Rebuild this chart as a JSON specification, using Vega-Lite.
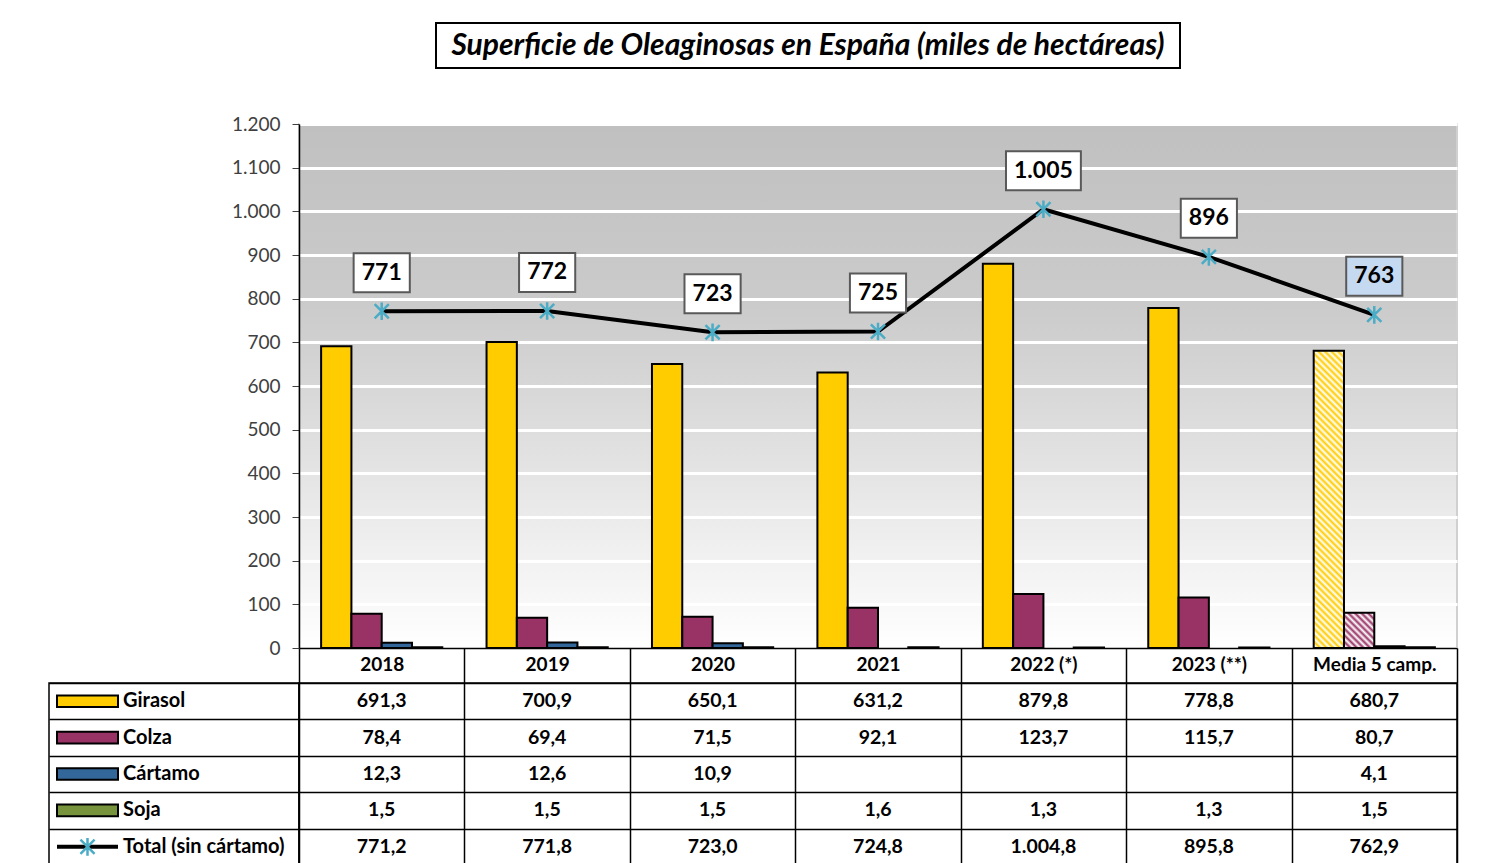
{
  "$schema": "https://vega.github.io/schema/vega-lite/v6.json",
  "background": "white",
  "padding": {"left": 48, "top": 22, "right": 0, "bottom": 0},
  "config": {
    "locale": {"number": {"decimal": ",", "thousands": ".", "grouping": [3], "currency": ["", " €"]}},
    "font": "Lato",
    "view": {"stroke": null},
    "axis": {"labelFont": "Lato", "titleFont": "Lato"},
    "text": {"font": "Lato"}
  },
  "datasets": {
    "sup": [
      {"cat": "2018", "serie": "Girasol", "value": 691.3},
      {"cat": "2018", "serie": "Colza", "value": 78.4},
      {"cat": "2018", "serie": "Cártamo", "value": 12.3},
      {"cat": "2018", "serie": "Soja", "value": 1.5},
      {"cat": "2018", "serie": "Total (sin cártamo)", "value": 771.2},
      {"cat": "2019", "serie": "Girasol", "value": 700.9},
      {"cat": "2019", "serie": "Colza", "value": 69.4},
      {"cat": "2019", "serie": "Cártamo", "value": 12.6},
      {"cat": "2019", "serie": "Soja", "value": 1.5},
      {"cat": "2019", "serie": "Total (sin cártamo)", "value": 771.8},
      {"cat": "2020", "serie": "Girasol", "value": 650.1},
      {"cat": "2020", "serie": "Colza", "value": 71.5},
      {"cat": "2020", "serie": "Cártamo", "value": 10.9},
      {"cat": "2020", "serie": "Soja", "value": 1.5},
      {"cat": "2020", "serie": "Total (sin cártamo)", "value": 723.0},
      {"cat": "2021", "serie": "Girasol", "value": 631.2},
      {"cat": "2021", "serie": "Colza", "value": 92.1},
      {"cat": "2021", "serie": "Soja", "value": 1.6},
      {"cat": "2021", "serie": "Total (sin cártamo)", "value": 724.8},
      {"cat": "2022 (*)", "serie": "Girasol", "value": 879.8},
      {"cat": "2022 (*)", "serie": "Colza", "value": 123.7},
      {"cat": "2022 (*)", "serie": "Soja", "value": 1.3},
      {"cat": "2022 (*)", "serie": "Total (sin cártamo)", "value": 1004.8},
      {"cat": "2023 (**)", "serie": "Girasol", "value": 778.8},
      {"cat": "2023 (**)", "serie": "Colza", "value": 115.7},
      {"cat": "2023 (**)", "serie": "Soja", "value": 1.3},
      {"cat": "2023 (**)", "serie": "Total (sin cártamo)", "value": 895.8},
      {"cat": "Media 5 camp.", "serie": "Girasol", "value": 680.7},
      {"cat": "Media 5 camp.", "serie": "Colza", "value": 80.7},
      {"cat": "Media 5 camp.", "serie": "Cártamo", "value": 4.1},
      {"cat": "Media 5 camp.", "serie": "Soja", "value": 1.5},
      {"cat": "Media 5 camp.", "serie": "Total (sin cártamo)", "value": 762.9}
    ]
  },
  "spacing": 45,
  "vconcat": [
    {
      "spacing": 0,
      "bounds": "flush",
      "hconcat": [
        {"width": 387, "height": 45, "data": {"values": []}, "mark": "point", "encoding": {}},
        {
          "width": 744, "height": 45,
          "view": {"stroke": "black", "strokeWidth": 2},
          "data": {"values": [{"titulo": "Superficie de Oleaginosas en España (miles de hectáreas)"}]},
          "mark": {"type": "text", "fontStyle": "italic", "fontWeight": "bold", "fontSize": 30, "baseline": "middle", "color": "black"},
          "encoding": {"text": {"field": "titulo"}}
        }
      ]
    },
    {
      "columns": 2,
      "spacing": {"row": 35, "column": 0},
      "bounds": "flush",
      "concat": [
        {"width": 250, "height": 524, "data": {"values": []}, "mark": "point", "encoding": {}},
        {
          "width": 1158, "height": 524,
          "data": {"name": "sup"},
          "view": {"stroke": "#D0D0D0", "strokeWidth": 2, "fill": {"gradient": "linear", "x1": 0, "y1": 0, "x2": 0, "y2": 1, "stops": [{"offset": 0, "color": "#C0C0C0"}, {"offset": 0.35, "color": "#CBCBCB"}, {"offset": 1, "color": "#FFFFFF"}]}},
          "encoding": {
            "x": {"field": "cat", "type": "nominal", "sort": ["2018", "2019", "2020", "2021", "2022 (*)", "2023 (**)", "Media 5 camp."],
              "scale": {"paddingInner": 0, "paddingOuter": 0},
              "axis": {"title": null, "tickBand": "extent", "tickSize": 35, "tickColor": "black", "tickWidth": 1.5, "domainColor": "black", "domainWidth": 1.5, "labelFontSize": 19, "labelFontWeight": "bold", "labelColor": "black", "labelPadding": -19, "labelBaseline": "middle", "labelAngle": 0, "grid": false}},
            "y": {"field": "value", "type": "quantitative", "scale": {"domain": [0, 1200], "nice": false},
              "axis": {"title": null, "tickCount": 12, "format": ",d", "tickSize": 7, "tickColor": "#404040", "domainColor": "black", "domainWidth": 1.5, "labelFontSize": 19, "labelColor": "#404040", "labelPadding": 12, "grid": true, "gridColor": "white", "gridWidth": 3}}
          },
          "layer": [
            {
              "transform": [{"filter": "datum.serie !== 'Total (sin cártamo)'"}],
              "mark": {"type": "bar", "stroke": "black", "strokeWidth": 2},
              "encoding": {
                "xOffset": {"field": "serie", "type": "nominal", "sort": ["Girasol", "Colza", "Cártamo", "Soja"], "scale": {"paddingInner": 0, "paddingOuter": 0.73}},
                "color": {"field": "serie", "type": "nominal", "legend": null,
                  "scale": {"domain": ["Girasol", "Colza", "Cártamo", "Soja"], "range": ["#FFCC00", "#993366", "#336699", "#77933C"]},
                  "condition": [
                    {"test": "datum.cat === 'Media 5 camp.' && datum.serie === 'Girasol'", "value": {"gradient": "linear", "x1": 0, "y1": 1, "x2": 0.11117, "y2": -0.09061, "stops": [
                      {"offset": 0, "color": "#FFCC00"}, {"offset": 0.01, "color": "#FFFFFF"}, {"offset": 0.02, "color": "#FFCC00"}, {"offset": 0.03, "color": "#FFFFFF"}, {"offset": 0.04, "color": "#FFCC00"}, {"offset": 0.05, "color": "#FFFFFF"}, {"offset": 0.06, "color": "#FFCC00"}, {"offset": 0.07, "color": "#FFFFFF"}, {"offset": 0.08, "color": "#FFCC00"}, {"offset": 0.09, "color": "#FFFFFF"},
                      {"offset": 0.1, "color": "#FFCC00"}, {"offset": 0.11, "color": "#FFFFFF"}, {"offset": 0.12, "color": "#FFCC00"}, {"offset": 0.13, "color": "#FFFFFF"}, {"offset": 0.14, "color": "#FFCC00"}, {"offset": 0.15, "color": "#FFFFFF"}, {"offset": 0.16, "color": "#FFCC00"}, {"offset": 0.17, "color": "#FFFFFF"}, {"offset": 0.18, "color": "#FFCC00"}, {"offset": 0.19, "color": "#FFFFFF"},
                      {"offset": 0.2, "color": "#FFCC00"}, {"offset": 0.21, "color": "#FFFFFF"}, {"offset": 0.22, "color": "#FFCC00"}, {"offset": 0.23, "color": "#FFFFFF"}, {"offset": 0.24, "color": "#FFCC00"}, {"offset": 0.25, "color": "#FFFFFF"}, {"offset": 0.26, "color": "#FFCC00"}, {"offset": 0.27, "color": "#FFFFFF"}, {"offset": 0.28, "color": "#FFCC00"}, {"offset": 0.29, "color": "#FFFFFF"},
                      {"offset": 0.3, "color": "#FFCC00"}, {"offset": 0.31, "color": "#FFFFFF"}, {"offset": 0.32, "color": "#FFCC00"}, {"offset": 0.33, "color": "#FFFFFF"}, {"offset": 0.34, "color": "#FFCC00"}, {"offset": 0.35, "color": "#FFFFFF"}, {"offset": 0.36, "color": "#FFCC00"}, {"offset": 0.37, "color": "#FFFFFF"}, {"offset": 0.38, "color": "#FFCC00"}, {"offset": 0.39, "color": "#FFFFFF"},
                      {"offset": 0.4, "color": "#FFCC00"}, {"offset": 0.41, "color": "#FFFFFF"}, {"offset": 0.42, "color": "#FFCC00"}, {"offset": 0.43, "color": "#FFFFFF"}, {"offset": 0.44, "color": "#FFCC00"}, {"offset": 0.45, "color": "#FFFFFF"}, {"offset": 0.46, "color": "#FFCC00"}, {"offset": 0.47, "color": "#FFFFFF"}, {"offset": 0.48, "color": "#FFCC00"}, {"offset": 0.49, "color": "#FFFFFF"},
                      {"offset": 0.5, "color": "#FFCC00"}, {"offset": 0.51, "color": "#FFFFFF"}, {"offset": 0.52, "color": "#FFCC00"}, {"offset": 0.53, "color": "#FFFFFF"}, {"offset": 0.54, "color": "#FFCC00"}, {"offset": 0.55, "color": "#FFFFFF"}, {"offset": 0.56, "color": "#FFCC00"}, {"offset": 0.57, "color": "#FFFFFF"}, {"offset": 0.58, "color": "#FFCC00"}, {"offset": 0.59, "color": "#FFFFFF"},
                      {"offset": 0.6, "color": "#FFCC00"}, {"offset": 0.61, "color": "#FFFFFF"}, {"offset": 0.62, "color": "#FFCC00"}, {"offset": 0.63, "color": "#FFFFFF"}, {"offset": 0.64, "color": "#FFCC00"}, {"offset": 0.65, "color": "#FFFFFF"}, {"offset": 0.66, "color": "#FFCC00"}, {"offset": 0.67, "color": "#FFFFFF"}, {"offset": 0.68, "color": "#FFCC00"}, {"offset": 0.69, "color": "#FFFFFF"},
                      {"offset": 0.7, "color": "#FFCC00"}, {"offset": 0.71, "color": "#FFFFFF"}, {"offset": 0.72, "color": "#FFCC00"}, {"offset": 0.73, "color": "#FFFFFF"}, {"offset": 0.74, "color": "#FFCC00"}, {"offset": 0.75, "color": "#FFFFFF"}, {"offset": 0.76, "color": "#FFCC00"}, {"offset": 0.77, "color": "#FFFFFF"}, {"offset": 0.78, "color": "#FFCC00"}, {"offset": 0.79, "color": "#FFFFFF"},
                      {"offset": 0.8, "color": "#FFCC00"}, {"offset": 0.81, "color": "#FFFFFF"}, {"offset": 0.82, "color": "#FFCC00"}, {"offset": 0.83, "color": "#FFFFFF"}, {"offset": 0.84, "color": "#FFCC00"}, {"offset": 0.85, "color": "#FFFFFF"}, {"offset": 0.86, "color": "#FFCC00"}, {"offset": 0.87, "color": "#FFFFFF"}, {"offset": 0.88, "color": "#FFCC00"}, {"offset": 0.89, "color": "#FFFFFF"},
                      {"offset": 0.9, "color": "#FFCC00"}, {"offset": 0.91, "color": "#FFFFFF"}, {"offset": 0.92, "color": "#FFCC00"}, {"offset": 0.93, "color": "#FFFFFF"}, {"offset": 0.94, "color": "#FFCC00"}, {"offset": 0.95, "color": "#FFFFFF"}, {"offset": 0.96, "color": "#FFCC00"}, {"offset": 0.97, "color": "#FFFFFF"}, {"offset": 0.98, "color": "#FFCC00"}, {"offset": 0.99, "color": "#FFFFFF"},
                      {"offset": 1, "color": "#FFCC00"}
                    ]}},
                    {"test": "datum.cat === 'Media 5 camp.' && datum.serie === 'Colza'", "value": {"gradient": "linear", "x1": 0, "y1": 1, "x2": 0.91939, "y2": -0.06929, "stops": [
                      {"offset": 0, "color": "#993366"}, {"offset": 0.05, "color": "#FFFFFF"}, {"offset": 0.1, "color": "#993366"}, {"offset": 0.15, "color": "#FFFFFF"}, {"offset": 0.2, "color": "#993366"}, {"offset": 0.25, "color": "#FFFFFF"}, {"offset": 0.3, "color": "#993366"}, {"offset": 0.35, "color": "#FFFFFF"}, {"offset": 0.4, "color": "#993366"}, {"offset": 0.45, "color": "#FFFFFF"},
                      {"offset": 0.5, "color": "#993366"}, {"offset": 0.55, "color": "#FFFFFF"}, {"offset": 0.6, "color": "#993366"}, {"offset": 0.65, "color": "#FFFFFF"}, {"offset": 0.7, "color": "#993366"}, {"offset": 0.75, "color": "#FFFFFF"}, {"offset": 0.8, "color": "#993366"}, {"offset": 0.85, "color": "#FFFFFF"}, {"offset": 0.9, "color": "#993366"}, {"offset": 0.95, "color": "#FFFFFF"},
                      {"offset": 1, "color": "#993366"}
                    ]}}
                  ]}
              }
            },
            {
              "transform": [{"filter": "datum.serie === 'Total (sin cártamo)'"}],
              "mark": {"type": "line", "color": "black", "strokeWidth": 4}
            },
            {
              "transform": [{"filter": "datum.serie === 'Total (sin cártamo)'"}],
              "mark": {"type": "point", "shape": "M-1,-1L1,1M-1,1L1,-1M0,-1.25L0,1.25", "size": 200, "filled": false, "stroke": "#4BACC6", "strokeWidth": 2.5, "opacity": 1}
            },
            {
              "transform": [{"filter": "datum.serie === 'Total (sin cártamo)'"}],
              "mark": {"type": "point", "size": 1521, "filled": true, "opacity": 1, "stroke": "#595959", "strokeWidth": 2, "yOffset": -38.5},
              "encoding": {
                "shape": {"condition": {"test": "datum.value >= 1000", "value": "M-1.92,-1H1.92V1H-1.92Z"}, "value": "M-1.44,-1H1.44V1H-1.44Z"},
                "fill": {"condition": {"test": "datum.cat === 'Media 5 camp.'", "value": "#C5D9F1"}, "value": "white"}
              }
            },
            {
              "transform": [{"filter": "datum.serie === 'Total (sin cártamo)'"}],
              "mark": {"type": "text", "fontSize": 23, "fontWeight": "bold", "baseline": "middle", "dy": -38.5, "color": "black"},
              "encoding": {"text": {"field": "value", "type": "quantitative", "format": ",.0f"}}
            }
          ]
        },
        {
          "width": 250, "height": 182,
          "data": {"name": "sup"},
          "transform": [{"filter": "datum.cat === '2018'"}],
          "view": {"stroke": "black", "strokeWidth": 1.5},
          "encoding": {
            "y": {"field": "serie", "type": "nominal", "sort": ["Girasol", "Colza", "Cártamo", "Soja", "Total (sin cártamo)"],
              "scale": {"paddingInner": 0, "paddingOuter": 0},
              "axis": {"title": null, "labels": false, "ticks": false, "domain": false, "grid": true, "tickBand": "extent", "gridColor": "black", "gridWidth": 1.5}}
          },
          "layer": [
            {
              "transform": [{"filter": "datum.serie !== 'Total (sin cártamo)'"}],
              "mark": {"type": "point", "shape": "M-1,-0.19H1V0.19H-1Z", "size": 3721, "filled": true, "opacity": 1, "stroke": "black", "strokeWidth": 2, "xOffset": -86.5},
              "encoding": {"fill": {"field": "serie", "type": "nominal", "legend": null, "scale": {"domain": ["Girasol", "Colza", "Cártamo", "Soja"], "range": ["#FFCC00", "#993366", "#336699", "#77933C"]}}}
            },
            {
              "transform": [{"filter": "datum.serie === 'Total (sin cártamo)'"}],
              "mark": {"type": "point", "shape": "M-1,0H1", "size": 3721, "filled": false, "opacity": 1, "stroke": "black", "strokeWidth": 4, "xOffset": -86.5}
            },
            {
              "transform": [{"filter": "datum.serie === 'Total (sin cártamo)'"}],
              "mark": {"type": "point", "shape": "M-1,-1L1,1M-1,1L1,-1M0,-1.25L0,1.25", "size": 200, "filled": false, "opacity": 1, "stroke": "#4BACC6", "strokeWidth": 2.5, "xOffset": -86.5}
            },
            {
              "mark": {"type": "text", "align": "left", "dx": -51, "fontSize": 20, "fontWeight": "bold", "baseline": "middle", "color": "black"},
              "encoding": {"text": {"field": "serie"}}
            }
          ]
        },
        {
          "width": 1158, "height": 182,
          "data": {"name": "sup"},
          "view": {"stroke": "black", "strokeWidth": 1.5},
          "mark": {"type": "text", "fontSize": 19.5, "fontWeight": "bold", "baseline": "middle", "color": "black"},
          "encoding": {
            "x": {"field": "cat", "type": "nominal", "sort": ["2018", "2019", "2020", "2021", "2022 (*)", "2023 (**)", "Media 5 camp."],
              "scale": {"paddingInner": 0, "paddingOuter": 0},
              "axis": {"title": null, "labels": false, "ticks": false, "domain": false, "grid": true, "tickBand": "extent", "gridColor": "black", "gridWidth": 1.5, "orient": "top"}},
            "y": {"field": "serie", "type": "nominal", "sort": ["Girasol", "Colza", "Cártamo", "Soja", "Total (sin cártamo)"],
              "scale": {"paddingInner": 0, "paddingOuter": 0},
              "axis": {"title": null, "labels": false, "ticks": false, "domain": false, "grid": true, "tickBand": "extent", "gridColor": "black", "gridWidth": 1.5}},
            "text": {"field": "value", "type": "quantitative", "format": ",.1f"}
          }
        }
      ]
    }
  ]
}
